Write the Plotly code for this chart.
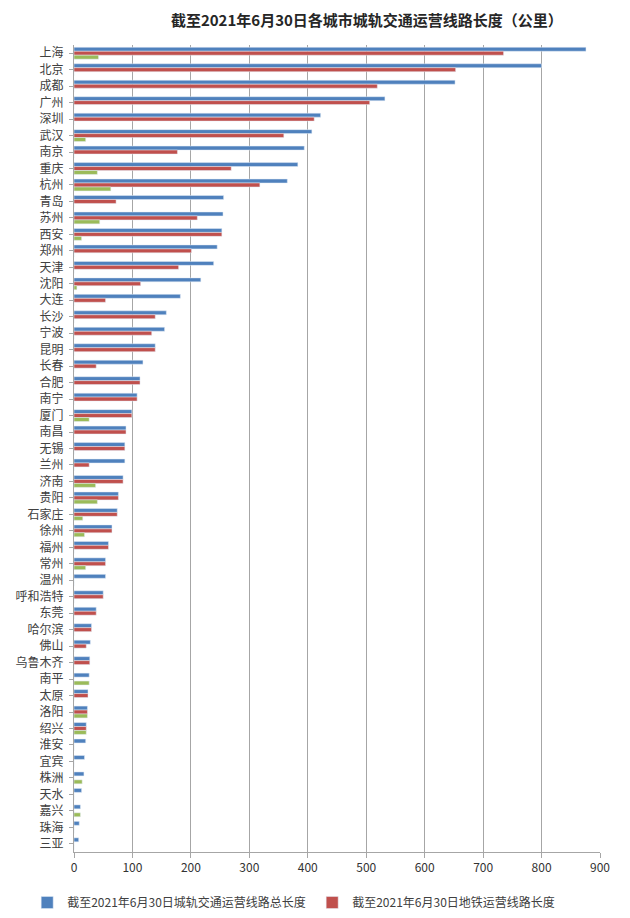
import plotly.graph_objects as go

cities = ["上海", "北京", "成都", "广州", "深圳", "武汉", "南京", "重庆", "杭州", "青岛",
          "苏州", "西安", "郑州", "天津", "沈阳", "大连", "长沙", "宁波", "昆明", "长春",
          "合肥", "南宁", "厦门", "南昌", "无锡", "兰州", "济南", "贵阳", "石家庄", "徐州",
          "福州", "常州", "温州", "呼和浩特", "东莞", "哈尔滨", "佛山", "乌鲁木齐", "南平", "太原",
          "洛阳", "绍兴", "淮安", "宜宾", "株洲", "天水", "嘉兴", "珠海", "三亚"]

# 城轨交通运营线路总长度
total_km = [876, 800, 652, 532, 422, 407, 394, 383, 365, 256,
            255, 253, 245, 239, 217, 182, 158, 155, 139, 118,
            113, 108, 99, 89, 87, 87, 84, 76, 74, 65,
            59, 54, 54, 50, 38, 30, 28, 27, 26, 24,
            23, 21, 20, 18, 17, 13, 11, 9, 8]

# 地铁运营线路长度
metro_km = [735, 653, 519, 506, 411, 359, 177, 269, 318, 72,
            211, 253, 201, 179, 114, 54, 139, 133, 139, 38,
            113, 108, 99, 89, 87, 26, 84, 76, 74, 65,
            59, 54, 0, 50, 38, 30, 21, 27, 0, 24,
            23, 21, 0, 0, 0, 0, 0, 0, 0]

# third (green) series, not named in the visible legend
green_km = [42, 0, 0, 0, 0, 20, 0, 40, 63, 0,
            44, 13, 0, 0, 5, 0, 0, 0, 0, 0,
            0, 0, 26, 0, 0, 0, 37, 40, 15, 18,
            0, 20, 0, 0, 0, 0, 0, 0, 26, 0,
            23, 21, 0, 0, 14, 0, 11, 0, 0]

x_ticks = [0, 100, 200, 300, 400, 500, 600, 700, 800, 900]

legend_total = "截至2021年6月30日城轨交通运营线路总长度"
legend_metro = "截至2021年6月30日地铁运营线路长度"

fig = go.Figure()
fig.add_trace(go.Bar(y=cities, x=total_km, orientation="h", name=legend_total,
                     marker=dict(color="#4F81BD")))
fig.add_trace(go.Bar(y=cities, x=metro_km, orientation="h", name=legend_metro,
                     marker=dict(color="#C0504D")))
fig.add_trace(go.Bar(y=cities, x=green_km, orientation="h", name="新增",
                     marker=dict(color="#9BBB59"), showlegend=False))

# the page adds an 8px body margin, so the figure is 8px smaller than the window
fig.update_layout(
    width=622, height=910,
    paper_bgcolor="white", plot_bgcolor="white",
    font=dict(family="Noto Sans CJK SC", color="#404040"),
    title=dict(text="<b>截至2021年6月30日各城市城轨交通运营线路长度（公里）</b>",
               x=0.577, xanchor="center", y=0.986, yanchor="middle",
               font=dict(size=15, color="#262626")),
    barmode="group", bargap=0.28, bargroupgap=0,
    margin=dict(l=66, r=30, t=37, b=66, autoexpand=False),
    showlegend=True,
    legend=dict(orientation="h", x=-0.089, xanchor="left", y=-0.0446, yanchor="top",
                font=dict(size=12, color="#404040"), traceorder="normal",
                itemwidth=30, entrywidth=240, entrywidthmode="pixels"),
    xaxis=dict(range=[0, 900], tickvals=x_ticks, showgrid=True, gridcolor="#A6A6A6",
               gridwidth=1, showline=True, linecolor="#A6A6A6", ticks="outside",
               tickcolor="#A6A6A6", ticklen=5, zeroline=False, automargin=False,
               tickfont=dict(size=12, color="#333333")),
    yaxis=dict(categoryorder="array", categoryarray=cities, autorange="reversed",
               showline=True, linecolor="#A6A6A6", ticks="outside", tickcolor="#A6A6A6",
               ticklen=4, showgrid=False, tickfont=dict(size=12, color="#404040"),
               automargin=False, ticklabelstandoff=3),
)

fig.write_html("out.html")
